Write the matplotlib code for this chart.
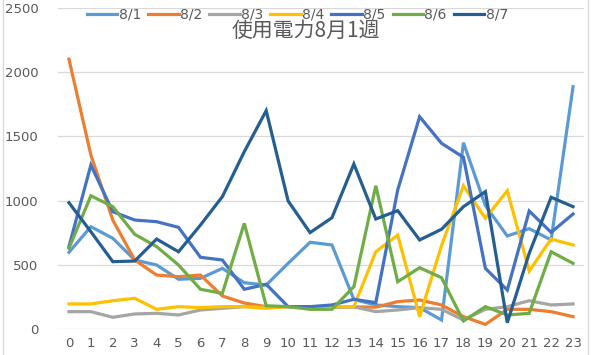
import numpy as np
import matplotlib.pyplot as plt
from matplotlib.lines import Line2D

# 時間 (0-23時)
hours = list(range(24))

# 日ごとの使用電力
d0801 = [597, 796, 706, 537, 498, 387, 394, 472, 360, 342, 511, 675,
         654, 230, 187, 174, 166, 70, 1450, 960, 724, 781, 693, 1886]
d0802 = [2100, 1354, 848, 537, 420, 407, 420, 257, 202, 174, 174, 170,
         170, 172, 170, 213, 226, 187, 96, 36, 153, 153, 135, 96]
d0803 = [135, 135, 91, 117, 122, 109, 148, 161, 174, 174, 174, 170,
         170, 172, 135, 148, 166, 153, 70, 153, 174, 220, 187, 195]
d0804 = [195, 195, 220, 239, 153, 174, 166, 174, 174, 161, 174, 174,
         174, 174, 601, 731, 96, 650, 1115, 861, 1076, 451, 700, 654]
d0805 = [641, 1276, 913, 848, 835, 791, 558, 537, 309, 348, 174, 174,
         187, 231, 205, 1082, 1652, 1445, 1336, 472, 303, 918, 752, 895]
d0806 = [628, 1037, 952, 737, 641, 498, 309, 278, 822, 181, 174, 153,
         153, 329, 1115, 368, 477, 399, 62, 174, 109, 122, 601, 511]
d0807 = [983, 757, 524, 529, 700, 601, 809, 1030, 1380, 1699, 996, 750,
         866, 1284, 856, 921, 693, 776, 952, 1069, 49, 589, 1025, 952]

labels = ['8/1', '8/2', '8/3', '8/4', '8/5', '8/6', '8/7']
series = [d0801, d0802, d0803, d0804, d0805, d0806, d0807]
colors = ['#5B9BD5', '#ED7D31', '#A5A5A5', '#FFC000', '#4472C4', '#70AD47', '#255E91']

plt.rcParams['font.family'] = ['DejaVu Sans', 'Noto Sans CJK JP']

fig = plt.figure(figsize=(6.05, 3.55), dpi=100)
ax = fig.add_axes([58 / 605, 26 / 355, 526 / 605, 321.25 / 355])

for lab, vals, col in zip(labels, series, colors):
    ax.plot(hours, vals, color=col, lw=2.3, label=lab, solid_joinstyle='miter')

ax.set_xlim(-0.5, 23.5)
ax.set_ylim(0, 2500)
ax.set_xticks(hours)
ax.set_yticks(range(0, 2501, 500))
ax.grid(axis='y', color='#D9D9D9', lw=0.9)
ax.set_axisbelow(True)
for s in ax.spines.values():
    s.set_visible(False)
ax.tick_params(length=0, labelsize=9.5, labelcolor='#595959')
ax.tick_params(axis='y', pad=14)
ax.tick_params(axis='x', pad=6)

ax.legend(loc='center', bbox_to_anchor=(0.455, 0.978), ncol=7, frameon=False,
          fontsize=10, labelcolor='#595959', handlelength=2.2,
          handletextpad=0.1, columnspacing=0.5)

fig.text(0.505, 0.912, '使用電力8月1週', ha='center', va='center',
         fontsize=15, color='#595959', family=['Noto Sans CJK JP', 'DejaVu Sans'])

# シートの枠線
fig.add_artist(Line2D([3 / 605, 3 / 605], [0, 1], color='#D9D9D9', lw=1))
fig.add_artist(Line2D([588 / 605, 588 / 605], [0, 1], color='#D9D9D9', lw=1))

fig.savefig('out.png', dpi=100)
